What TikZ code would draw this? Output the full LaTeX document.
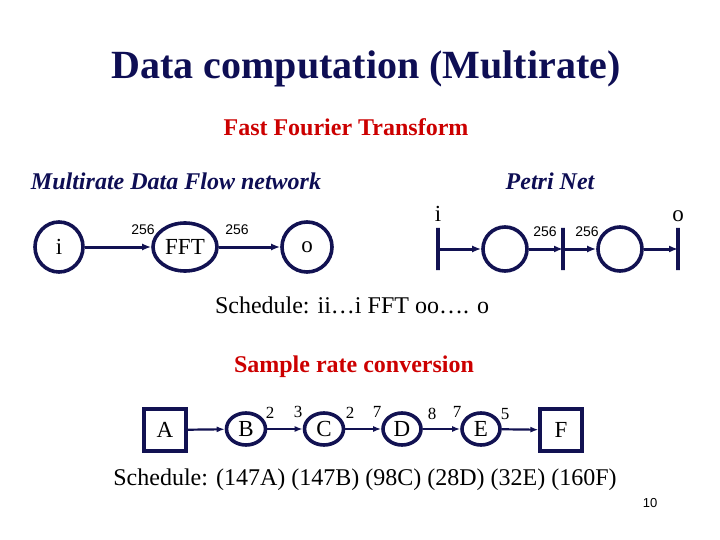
\documentclass[tikz,border=0pt]{standalone}
\usepackage{fontspec}
\setmainfont{Liberation Serif}
\setsansfont{Liberation Sans}
\usepackage{xcolor}
\usetikzlibrary{arrows.meta,positioning,shapes.geometric}

\definecolor{navy}{RGB}{18,18,82}
\definecolor{titleblue}{RGB}{14,14,84}
\definecolor{slidered}{RGB}{204,0,0}

\begin{document}
\begin{tikzpicture}[
    x=1pt, y=-1pt,
    actor/.style={ellipse, draw=navy, line width=3.6pt, inner sep=0pt, font=\fontsize{23}{26}\selectfont},
    place/.style={circle, draw=navy, line width=3.6pt, minimum size=44pt, inner sep=0pt},
    bar/.style={draw=navy, line width=3.6pt, minimum width=0pt, minimum height=42pt, inner sep=0pt},
    box/.style={rectangle, draw=navy, line width=3.2pt, minimum size=42pt, inner sep=0pt, font=\fontsize{23}{26}\selectfont},
    rate/.style={font=\sffamily\fontsize{14}{16}\selectfont, inner sep=0pt},
    srate/.style={font=\fontsize{17}{19}\selectfont, inner sep=0pt},
    arr/.style={-{Latex[length=9pt,width=7pt]}, draw=navy, line width=3pt},
    sarr/.style={-{Latex[length=8pt,width=6pt]}, draw=navy, line width=2.2pt}
]
\useasboundingbox (0,0) rectangle (720,540);

% headings
\node[text=titleblue, font=\bfseries\fontsize{40}{46}\selectfont] (title) at (366,69) {Data computation (Multirate)};
\node[text=slidered, font=\bfseries\fontsize{24}{28}\selectfont] (fft) at (346,127) {Fast Fourier Transform};
\node[text=titleblue, font=\bfseries\itshape\fontsize{24}{28}\selectfont] (mdf) at (176,181) {Multirate Data Flow network};
\node[text=titleblue, font=\bfseries\itshape\fontsize{24}{28}\selectfont] (pn) at (550,181) {Petri Net};

% multirate data flow
\node[actor, minimum width=48pt, minimum height=50pt] (i) at (59,247) {i};
\node[actor, minimum width=64pt, minimum height=48pt] (f) at (185,247) {FFT};
\node[actor, minimum width=50pt, minimum height=50pt] (o) at (307,247) {o};
\draw[arr] (i) -- (f);
\draw[arr] (f) -- (o);
\node[rate] at (143,230) {256};
\node[rate] at (237,230) {256};

% petri net
\node[bar] (t1) at (438,249) {};
\node[place] (p1) at (505,249) {};
\node[bar] (t2) at (563,249) {};
\node[place] (p2) at (620,249) {};
\node[bar] (t3) at (678,249) {};
\node[font=\fontsize{23}{26}\selectfont, above=1pt of t1] (ti) {i};
\node[font=\fontsize{23}{26}\selectfont, above=1pt of t3] (to) {o};
\draw[arr] (t1.center) -- (p1);
\draw[arr] (p1) -- (t2.center);
\draw[arr] (t2.center) -- (p2);
\draw[arr] (p2) -- (t3.center);
\node[rate] at (545,232) {256};
\node[rate] at (587,232) {256};

\node[font=\fontsize{24}{28}\selectfont] (sched1) at (352,305) {Schedule: ii…i FFT oo…. o};

% sample rate conversion
\node[text=slidered, font=\bfseries\fontsize{24}{28}\selectfont] (src) at (354,367) {Sample rate conversion};
\node[box] (A) at (165,430) {A};
\node[actor, minimum width=39pt, minimum height=32pt] (B) at (246,429) {B};
\node[actor, minimum width=39pt, minimum height=32pt] (C) at (324,429) {C};
\node[actor, minimum width=38pt, minimum height=32pt] (D) at (402,429) {D};
\node[actor, minimum width=38pt, minimum height=32pt] (E) at (481,429) {E};
\node[box] (F) at (561,430) {F};
\draw[sarr] (A) -- (B);
\draw[sarr] (B) -- (C);
\draw[sarr] (C) -- (D);
\draw[sarr] (D) -- (E);
\draw[sarr] (E) -- (F);
\node[srate] at (270,413) {2};
\node[srate] at (298,412) {3};
\node[srate] at (350,413) {2};
\node[srate] at (377,412) {7};
\node[srate] at (432,414) {8};
\node[srate] at (457,412) {7};
\node[srate] at (505,414) {5};

\node[font=\fontsize{24}{28}\selectfont] (sched2) at (365,480) {Schedule: (147A) (147B) (98C) (28D) (32E) (160F)};
\node[font=\sffamily\fontsize{13}{15}\selectfont] (pg) at (650,503) {10};
\end{tikzpicture}
\end{document}
